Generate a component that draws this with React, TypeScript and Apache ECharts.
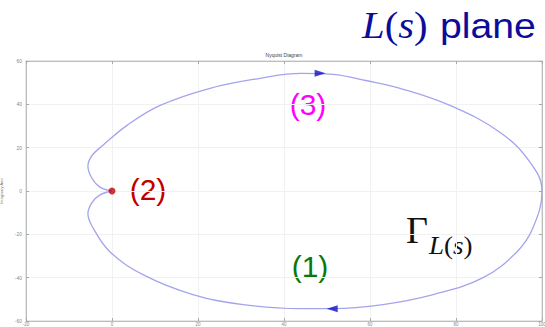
import React, { useEffect, useRef } from "react";
import * as echarts from "echarts";

// Nyquist contour of L(s): real and imaginary parts, traversed from the origin
const realPart = [
  0, -2.8, -4.7, -5.6, -4.6, -2.1, 3.5, 11.2, 22.8, 34.4, 44, 51.4, 59, 67, 78.6, 90.2, 97.2, 100,
  97.9, 94.2, 86.3, 74.7, 63, 51.4, 43.7, 30.5, 18.8, 7.2, -0.5, -4.4, -5.6, -4.7, -2.8, 0,
];
const imagPart = [
  0, 1.8, 6, 11.5, 16.5, 21.1, 30.3, 39.5, 47.4, 52, 54.3, 53.8, 51, 47.4, 39.5, 27.1, 13.3, 0,
  -17, -28, -40, -47.8, -52.4, -54.3, -54.3, -52.4, -47.8, -38.6, -28, -17, -10.5, -5.5, -1.8, 0,
];

// direction arrows along the contour: [re, im, rotation]
const arrowRe = [48.4, 51.2];
const arrowIm = [54.3, -54.3];
const arrowRotate = [-90, 90];

// critical point marked as (2)
const criticalPoint = [0, 0];

const xTicks = [-20, 100, 20];
const yTicks = [-60, 60, 20];

export default function App() {
  const ref = useRef<HTMLDivElement>(null);

  useEffect(() => {
    if (!ref.current) return;
    const chart = echarts.init(ref.current, null, { renderer: "svg" });
    const contour = realPart.map((re, i) => [re, imagPart[i]]);
    const arrows = arrowRe.map((re, i) => ({
      value: [re, arrowIm[i]],
      symbolRotate: arrowRotate[i],
    }));

    const tickFont = { fontSize: 5, color: "#8a8a8a", fontFamily: "Liberation Sans" };
    const frame = { onZero: false, lineStyle: { color: "#bdbdbd", width: 1 } };
    const ticks = { show: true, inside: true, length: 3, lineStyle: { color: "#a8a8a8" } };
    const grid = { show: true, lineStyle: { color: "#f1f1f1", width: 1 } };
    const mathFont = "Liberation Serif";

    chart.setOption({
      animation: false,
      backgroundColor: "#ffffff",
      grid: {
        left: 26,
        right: 3,
        top: 61,
        bottom: 6,
        show: true,
        borderColor: "#cfcfcf",
        borderWidth: 1,
        containLabel: false,
        outerBoundsMode: "none",
      },
      xAxis: [
        {
          type: "value",
          min: xTicks[0],
          max: xTicks[1],
          interval: xTicks[2],
          axisLine: { show: true, ...frame },
          axisTick: ticks,
          axisLabel: { ...tickFont, fontSize: 4.5, margin: 1 },
          splitLine: grid,
        },
        {
          type: "value",
          position: "top",
          min: xTicks[0],
          max: xTicks[1],
          interval: xTicks[2],
          axisLine: { show: true, ...frame },
          axisTick: ticks,
          axisLabel: { show: false },
          splitLine: { show: false },
        },
      ],
      yAxis: [
        {
          type: "value",
          min: yTicks[0],
          max: yTicks[1],
          interval: yTicks[2],
          name: "Imaginary Axis",
          nameLocation: "middle",
          nameRotate: 90,
          nameGap: 13,
          nameTextStyle: { fontSize: 4, color: "#777", fontFamily: "Liberation Sans" },
          axisLine: { show: true, ...frame },
          axisTick: ticks,
          axisLabel: { ...tickFont, margin: 4 },
          splitLine: grid,
        },
        {
          type: "value",
          position: "right",
          min: yTicks[0],
          max: yTicks[1],
          interval: yTicks[2],
          axisLine: { show: true, ...frame },
          axisTick: ticks,
          axisLabel: { show: false },
          splitLine: { show: false },
        },
      ],
      series: [
        {
          type: "line",
          data: contour,
          smooth: 0.4,
          showSymbol: false,
          lineStyle: { color: "#a4a4ec", width: 1.3 },
          z: 2,
        },
        {
          type: "scatter",
          data: arrows,
          symbol: "triangle",
          symbolSize: [7, 11],
          itemStyle: { color: "#1010c8" },
          z: 3,
        },
        {
          type: "scatter",
          data: [criticalPoint],
          symbolSize: 7,
          itemStyle: { color: "#c80000" },
          z: 4,
        },
      ],
      graphic: [
        {
          type: "text",
          x: 284,
          y: 55,
          style: {
            text: "Nyquist Diagram",
            fontSize: 5,
            fill: "#444",
            fontFamily: "Liberation Sans",
            align: "center",
            verticalAlign: "middle",
          },
        },
        {
          type: "text",
          x: 362,
          y: 25,
          scaleX: 1.1,
          style: {
            text: "{it|L}{up|(}{it|s}{up|)}",
            fill: "#0c0c9a",
            verticalAlign: "middle",
            rich: {
              it: { fontFamily: mathFont, fontStyle: "italic", fontSize: 37, fill: "#0c0c9a" },
              up: { fontFamily: mathFont, fontSize: 37, fill: "#0c0c9a" },
            },
          },
        },
        {
          type: "text",
          x: 440,
          y: 26,
          scaleX: 1.12,
          style: {
            text: "plane",
            fill: "#0c0c9a",
            fontSize: 35,
            fontFamily: "Liberation Sans",
            verticalAlign: "middle",
          },
        },
        {
          type: "text",
          x: 308,
          y: 104,
          style: {
            text: "(3)",
            fill: "#ff00ff",
            fontSize: 30,
            fontFamily: "Liberation Sans",
            align: "center",
            verticalAlign: "middle",
          },
        },
        {
          type: "text",
          x: 148,
          y: 189,
          style: {
            text: "(2)",
            fill: "#c00000",
            fontSize: 30,
            fontFamily: "Liberation Sans",
            align: "center",
            verticalAlign: "middle",
          },
        },
        {
          type: "text",
          x: 310,
          y: 266,
          style: {
            text: "(1)",
            fill: "#0a780a",
            fontSize: 30,
            fontFamily: "Liberation Sans",
            align: "center",
            verticalAlign: "middle",
          },
        },
        {
          type: "text",
          x: 406,
          y: 230,
          style: {
            text: "Γ",
            fill: "#111",
            fontSize: 38,
            fontFamily: mathFont,
            verticalAlign: "middle",
          },
        },
        {
          type: "text",
          x: 429,
          y: 246,
          scaleX: 1.08,
          style: {
            text: "{it|L}{up|(}{it|s}{up|)}",
            fill: "#111",
            verticalAlign: "middle",
            rich: {
              it: { fontFamily: mathFont, fontStyle: "italic", fontSize: 25, fill: "#111" },
              up: { fontFamily: mathFont, fontSize: 25, fill: "#111" },
            },
          },
        },
      ],
    });
    return () => chart.dispose();
  }, []);

  return (
    <div
      ref={ref}
      style={{ position: "absolute", left: 0, top: 0, width: 545, height: 327 }}
    />
  );
}
